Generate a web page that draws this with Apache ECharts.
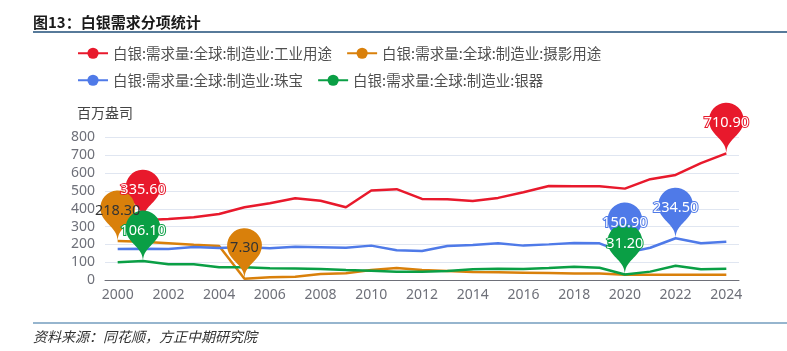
<!DOCTYPE html>
<html>
<head>
<meta charset="utf-8">
<script src="https://cdn.jsdelivr.net/npm/echarts@6/dist/echarts.min.js"></script>
<style>
  html, body { margin: 0; padding: 0; background: #fff; }
  #main { width: 787px; height: 351px; }
</style>
</head>
<body>
<div id="main"></div>
<script>
  // 年份 2000-2024
  var years = [];
  for (var y = 2000; y <= 2024; y++) years.push(String(y));

  var seriesNames = [
    '白银:需求量:全球:制造业:工业用途',
    '白银:需求量:全球:制造业:摄影用途',
    '白银:需求量:全球:制造业:珠宝',
    '白银:需求量:全球:制造业:银器'
  ];
  var colors = ['#E8192C', '#D9800B', '#4F7AE8', '#0A9F45'];

  // 百万盎司
  var industrial = [355, 335.6, 342, 352, 371, 408, 431, 459, 445, 408, 502, 510, 455, 453, 444,
    461, 493, 528, 526, 526, 513, 566, 590, 656, 710.9];
  var photo = [218.3, 215, 207, 198, 191, 7.3, 15, 18, 34, 38, 56, 67, 56, 51, 45,
    43, 41, 39, 37, 36, 30, 30, 30, 29, 29];
  var jewelry = [174, 175, 174, 185, 180, 185, 178, 187, 184, 181, 193, 167, 163, 191, 197,
    206, 193, 200, 208, 206, 150.9, 181, 234.5, 206, 215];
  var silverware = [99, 106.1, 88, 88, 71, 71, 66, 64, 62, 56, 52, 47, 47, 51, 60,
    63, 62, 67, 75, 69, 31.2, 47, 80, 60, 63];

  var dataList = [industrial, photo, jewelry, silverware];

  var FONT = '"Noto Sans CJK SC", "Noto Sans", sans-serif';
  var NUMFONT = '"Noto Sans", "Noto Sans CJK SC", sans-serif';

  var myChart = echarts.init(document.getElementById('main'));

  var series = dataList.map(function (d, i) {
    var labelStyle = i === 1
      ? { color: '#333', fontSize: 14.5, fontFamily: NUMFONT }
      : { color: '#fff', fontSize: 14.5, fontFamily: NUMFONT, textBorderColor: colors[i], textBorderWidth: 2 };
    labelStyle.formatter = function (p) { return Number(p.value).toFixed(2); };
    return {
      name: seriesNames[i],
      type: 'line',
      data: d,
      symbol: 'circle',
      showSymbol: false,
      lineStyle: { width: 2.5, color: colors[i] },
      itemStyle: { color: colors[i] },
      markPoint: {
        symbolSize: 58,
        data: [{ type: 'max' }, { type: 'min' }],
        label: labelStyle
      }
    };
  });

  myChart.setOption({
    animation: false,
    textStyle: { fontFamily: FONT },
    title: {
      text: '图13：白银需求分项统计',
      left: 33,
      top: 15,
      padding: 0,
      textStyle: { fontSize: 15, fontWeight: 'bold', color: '#1a1a1a', fontFamily: FONT }
    },
    legend: [
      {
        data: [seriesNames[0], seriesNames[1]],
        left: 77, top: 46, padding: 0,
        itemWidth: 30, itemHeight: 14, itemGap: 14,
        textStyle: { fontSize: 14.5, color: '#505050', fontFamily: FONT }
      },
      {
        data: [seriesNames[2], seriesNames[3]],
        left: 77, top: 73, padding: 0,
        itemWidth: 30, itemHeight: 14, itemGap: 14,
        textStyle: { fontSize: 14.5, color: '#505050', fontFamily: FONT }
      }
    ],
    grid: { left: 105, right: 48, top: 137.5, bottom: 71 },
    xAxis: {
      type: 'category',
      data: years,
      axisLine: { lineStyle: { color: '#6E7079' } },
      axisTick: { interval: 1 },
      axisLabel: { interval: 1, fontSize: 14, color: '#6E7079', fontFamily: NUMFONT }
    },
    yAxis: {
      type: 'value',
      min: 0, max: 800, interval: 100,
      name: '百万盎司',
      nameGap: 18,
      nameTextStyle: { fontSize: 14, color: '#444', fontFamily: FONT },
      axisLabel: { fontSize: 14, color: '#6E7079', fontFamily: NUMFONT, margin: 10 },
      splitLine: { lineStyle: { color: '#E0E6F1' } }
    },
    graphic: [
      { type: 'line', shape: { x1: 33, y1: 32, x2: 787, y2: 32 }, style: { stroke: '#1F4E79', lineWidth: 1.5 } },
      { type: 'line', shape: { x1: 33, y1: 323, x2: 787, y2: 323 }, style: { stroke: '#2E6C9E', lineWidth: 1.2 } },
      {
        type: 'text', left: 33, top: 330,
        style: { text: '资料来源：同花顺，方正中期研究院', font: 'italic 14px ' + FONT, fill: '#333' }
      }
    ],
    series: series
  });
</script>
</body>
</html>
